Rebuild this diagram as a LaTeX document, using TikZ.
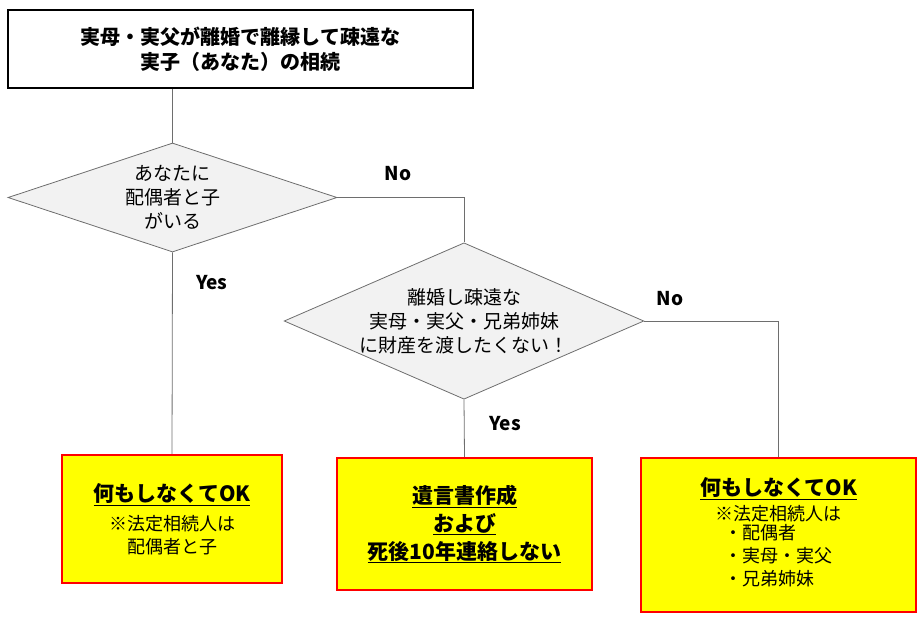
\documentclass[tikz,border=0pt]{standalone}
\usepackage{fontspec}
\setmainfont{Noto Sans CJK JP}
\usetikzlibrary{shapes.geometric,positioning,calc}
\definecolor{lineGray}{RGB}{110,110,110}
\definecolor{diaGray}{RGB}{242,242,242}
\definecolor{boxRed}{RGB}{255,0,0}
\definecolor{boxYellow}{RGB}{255,255,0}
\newcommand{\ul}[1]{\underline{#1}}
\begin{document}
\begin{tikzpicture}[x=1pt,y=-1pt,
    title/.style={draw=black,line width=1.5pt,minimum width=465pt,minimum height=78pt,
                  align=center,font=\fontsize{20}{25}\selectfont\bfseries,inner sep=2pt},
    decision/.style={diamond,aspect=2.3,draw=lineGray,fill=diaGray,line width=0.8pt,
                  align=center,font=\fontsize{19}{24}\selectfont,inner sep=0pt},
    result/.style={draw=boxRed,fill=boxYellow,line width=2.5pt,align=center,
                  font=\fontsize{18}{23}\selectfont,inner sep=2pt},
    link/.style={draw=lineGray,line width=0.8pt},
    answer/.style={font=\fontsize{19}{23}\selectfont\bfseries}
]
\useasboundingbox (0,0) rectangle (923,622);
\node[title] (head) at (240.5,49) {実母・実父が離婚で離縁して疎遠な\\実子（あなた）の相続};
\node[decision,minimum width=329pt,minimum height=109pt] (ask1) at (172.5,197.5) {あなたに\\配偶者と子\\がいる};
\node[decision,minimum width=354pt,minimum height=152pt] (ask2) at (464,321) {離婚し疎遠な\\実母・実父・兄弟姉妹\\に財産を渡したくない！};
\node[result,minimum width=220pt,minimum height=128pt] (ok1) at (172,519) {%
  {\bfseries\fontsize{21}{25}\selectfont\ul{何もしなくてOK}}\\[6pt]※法定相続人は\\配偶者と子};
\node[result,minimum width=255pt,minimum height=132pt,font=\fontsize{21}{28}\selectfont\bfseries] (will) at (464.5,524) {%
  \ul{遺言書作成}\\\ul{および}\\\ul{死後10年連絡しない}};
\node[result,minimum width=275pt,minimum height=154pt] (ok2) at (778.5,535) {%
  {\bfseries\fontsize{21}{25}\selectfont\ul{何もしなくてOK}}\\[2pt]
  ※法定相続人は\\
  \begin{tabular}{@{}l@{}}・配偶者\\・実母・実父\\・兄弟姉妹\end{tabular}};
% connectors
\draw[link] (head.south -| ask1.north) -- (ask1.north);
\draw[link] (ask1.east) -| (ask2.north);
\draw[link] (ask1.south) -- (ok1.north);
\draw[link] (ask2.east) -| (ok2.north);
\draw[link] (ask2.south) -- (will.north);
% labels
\node[answer] (no1) at (398,174) {No};
\node[answer] (yes1) at (212,283) {Yes};
\node[answer] (no2) at (670,299) {No};
\node[answer] (yes2) at (505,424) {Yes};
\end{tikzpicture}
\end{document}
